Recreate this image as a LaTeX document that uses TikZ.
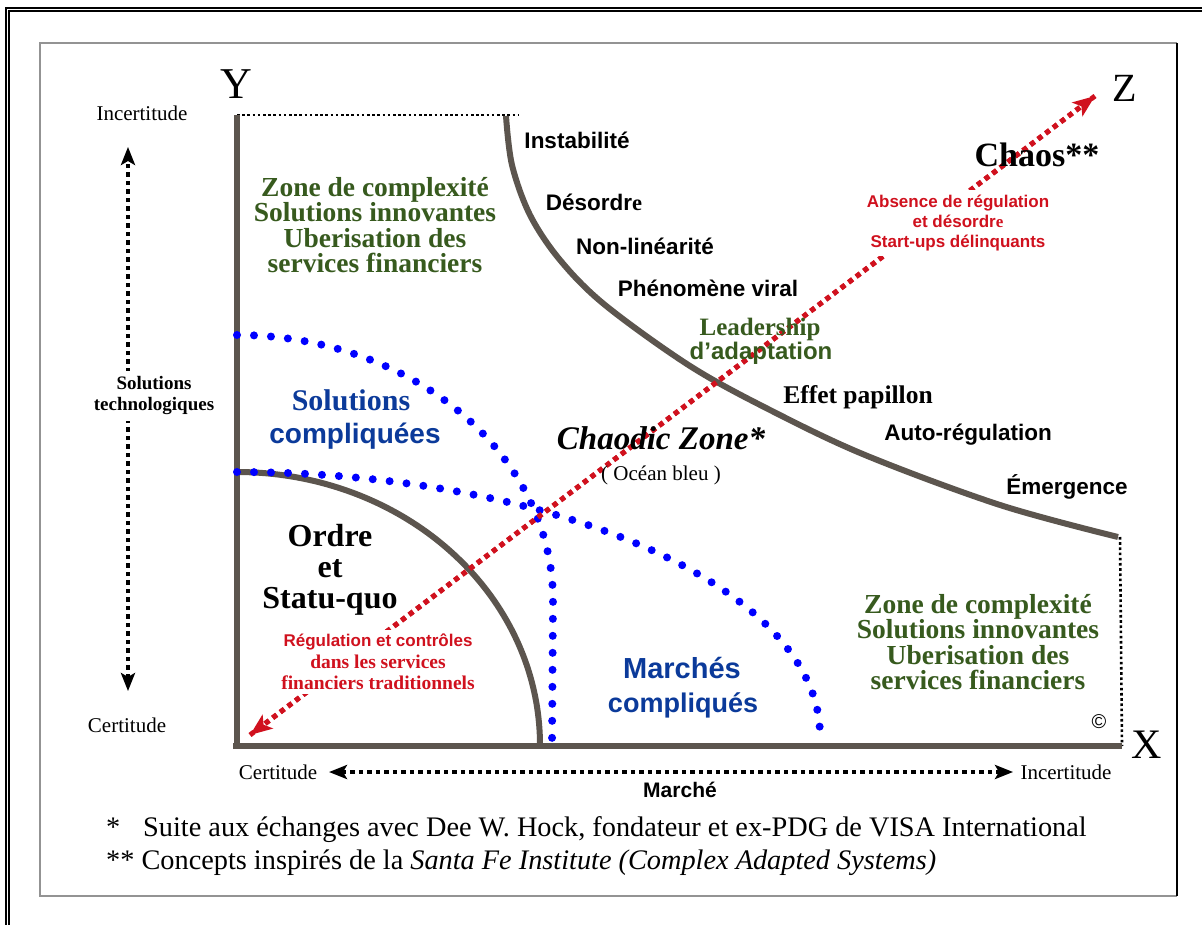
\documentclass[tikz,border=0pt]{standalone}
\usepackage{fontspec}
\setmainfont{Liberation Serif}
\setsansfont{Liberation Sans}
\usetikzlibrary{arrows.meta}
\definecolor{axisc}{HTML}{5C554E}
\definecolor{greenc}{HTML}{375A1E}
\definecolor{bluec}{HTML}{0B3A9A}
\definecolor{dotblue}{HTML}{0000FF}
\definecolor{redc}{HTML}{D0111E}
\newcommand\fsz[2]{\fontsize{#1}{#2}\selectfont}
\tikzset{
  axisline/.style={line width=6pt, draw=axisc},
  bluedots/.style={draw=dotblue, line width=8pt, line cap=round, dash pattern=on 0pt off 17pt},
  reddots/.style={draw=redc, line width=5pt, dash pattern=on 5pt off 4.5pt},
  blackdots/.style={draw=black, line width=4.5pt, dash pattern=on 4.5pt off 4pt},
  finedots/.style={draw=black, line width=2.6pt, dash pattern=on 2.6pt off 2.6pt},
  redtip/.style={-{Stealth[length=22pt,width=17pt,inset=5pt]}},
  blacktip/.style={{Stealth[length=18pt,width=14pt,inset=4pt]}-{Stealth[length=18pt,width=14pt,inset=4pt]}},
  txt/.style={inner sep=0pt, align=center},
  serifb/.style={txt, font=\bfseries\rmfamily},
  sansb/.style={txt, font=\bfseries\sffamily},
  greenblock/.style={serifb, text=greenc, font=\bfseries\rmfamily\fsz{27.5}{25.5}},
  blacklabel/.style={sansb, font=\bfseries\sffamily\fsz{22.5}{24}},
}
\begin{document}
\begin{tikzpicture}[x=1pt,y=-1pt]
\useasboundingbox (0,0) rectangle (1202,925);
\fill[white] (0,0) rectangle (1202,925);
% outer double frame
\draw[line width=1.3pt] (6,925) -- (6,8) -- (1202,8);
\draw[line width=1.3pt] (9,925) -- (9,11) -- (1202,11);
% inner frame
\draw[line width=1.6pt, draw=gray!85] (1177,896) -- (40,896) -- (40,43) -- (1177,43);
\draw[line width=1.6pt] (1177,43) -- (1177,896);

% axis coordinates
\coordinate (Ytop) at (237,115);
\coordinate (O) at (237,746);
\coordinate (Xend) at (1122,746);
\coordinate (Dtop) at (518,115);
\coordinate (Xup) at (1120,537);

% dotted limits
\draw[finedots] (Ytop) -- (Dtop);
\draw[finedots] (Xup) -- (Xend);

% thick axes and curves
\draw[axisline] (Ytop) -- (237,749);
\draw[axisline] (233,746) -- (Xend);
\draw[axisline] plot[variable=\t, domain=90:0, samples=80] ({237+303*cos(\t)},{745-273*sin(\t)});
\draw[axisline] plot[smooth, tension=0.55] coordinates {(506,116) (512,165) (530,215) (560,260) (605,305) (690,366) (770,410) (865,455) (1000,505) (1118,537)};

% blue dotted arcs
\draw[bluedots] plot[variable=\t, domain=90:0, samples=90] ({237+316*cos(\t)},{600-265*sin(\t)}) -- (552,745);
\draw[bluedots] plot[variable=\t, domain=90:0, samples=120] ({237+583*cos(\t)},{735-263*sin(\t)});

% red diagonal
\coordinate (rA) at (250,735);
\coordinate (rB) at (1095,96);
\draw[reddots, redtip] (rA) -- (rB);
\draw[reddots, redtip] (rB) -- (rA);

% black dotted arrows
\coordinate (vT) at (128,147);
\coordinate (vB) at (128,691);
\draw[blackdots, blacktip] (vB) -- (vT);
\coordinate (hL) at (329,772);
\coordinate (hR) at (1013,772);
\draw[blackdots, blacktip] (hL) -- (hR);

% axis letters
\node[txt, font=\fsz{44}{44}] (Y) at (236,84) {Y};
\node[txt, font=\fsz{40}{40}] (Z) at (1125,88) {Z};
\node[txt, font=\fsz{42}{42}] (X) at (1147,745) {X};

% side labels
\node[txt, font=\fsz{21}{21}] (incY) at (142,113) {Incertitude};
\node[txt, font=\fsz{21}{21}] (certY) at (127,725) {Certitude};
\node[serifb, font=\bfseries\rmfamily\fsz{19}{21}, fill=white, inner sep=6pt] (soltech) at (154,396) {Solutions\\technologiques};
\node[txt, font=\fsz{21}{21}] (certX) at (278,772) {Certitude};
\node[txt, font=\fsz{21}{21}] (incX) at (1066,772) {Incertitude};
\node[sansb, font=\bfseries\sffamily\fsz{21}{21}] (marche) at (680,790) {Marché};

% green blocks
\node[greenblock] (zone1) at (375,225) {Zone de complexité\\Solutions innovantes\\Uberisation des\\services financiers};
\node[greenblock] (zone2) at (978,642) {Zone de complexité\\Solutions innovantes\\Uberisation des\\services financiers};

% blue labels
\node[serifb, text=bluec, font=\bfseries\rmfamily\fsz{30}{30}] (sol1) at (351,400) {Solutions};
\node[sansb, text=bluec, font=\bfseries\sffamily\fsz{28}{28}] (sol2) at (355,436) {compliquées};
\node[sansb, text=bluec, font=\bfseries\sffamily\fsz{29}{29}] (mar1) at (682,668) {Marchés};
\node[sansb, text=bluec, font=\bfseries\sffamily\fsz{27}{27}] (mar2) at (683,705) {compliqués};

% ordre
\node[serifb, font=\bfseries\rmfamily\fsz{32}{31}] (ordre) at (330,570) {Ordre\\et\\Statu-quo};

% red labels
\node[txt, fill=white, inner sep=4pt, text=redc, font=\fsz{19.5}{21.5}] (reg) at (378,662) {{\bfseries\sffamily\fsz{17}{21.5}Régulation et contrôles}\\{\bfseries\rmfamily dans les services}\\{\bfseries\rmfamily financiers traditionnels}};
\node[sansb, fill=white, inner sep=5pt, text=redc, font=\bfseries\sffamily\fsz{17}{20}] (abs) at (958,223) {Absence de régulation\\et désordr{\rmfamily e}\\Start-ups délinquants};

% chaodic zone
\node[txt, font=\bfseries\itshape\rmfamily\fsz{33}{33}] (chz) at (661,438) {Chaodic Zone*};
\node[txt, font=\fsz{21}{21}] (ocean) at (661,475) {( Océan bleu )};

% leadership
\node[serifb, text=greenc, font=\bfseries\rmfamily\fsz{25}{25}] (lead1) at (760,329) {Leadership};
\node[sansb, text=greenc, font=\bfseries\sffamily\fsz{24}{24}] (lead2) at (761,353) {d’adaptation};

% chaos
\node[serifb, font=\bfseries\rmfamily\fsz{34}{34}] (chaos) at (1037,155) {Chaos**};

% curve labels
\node[blacklabel] (l1) at (577,140) {Instabilité};
\node[blacklabel] (l2) at (594,202) {Désordr{\rmfamily e}};
\node[blacklabel] (l3) at (645,246) {Non-linéarité};
\node[blacklabel] (l4) at (708,288) {Phénomène viral};
\node[serifb, font=\bfseries\rmfamily\fsz{25.5}{25.5}] (l5) at (858,397) {Effet papillon};
\node[blacklabel] (l6) at (968,435) {Auto-régulation};
\node[blacklabel] (l7) at (1067,487) {Émergence};

% copyright
\node[txt, font=\sffamily\fsz{20}{20}] (copy) at (1099,722) {©};

% footnotes
\node[anchor=base west, inner sep=0pt, font=\fsz{28.3}{28}] (fn1) at (106,836) {\makebox[37pt][l]{*}Suite aux échanges avec Dee W. Hock, fondateur et ex-PDG de VISA International};
\node[anchor=base west, inner sep=0pt, font=\fsz{28.3}{28}] (fn2) at (106,869) {** Concepts inspirés de la \textit{Santa Fe Institute (Complex Adapted Systems)}};
\end{tikzpicture}
\end{document}
